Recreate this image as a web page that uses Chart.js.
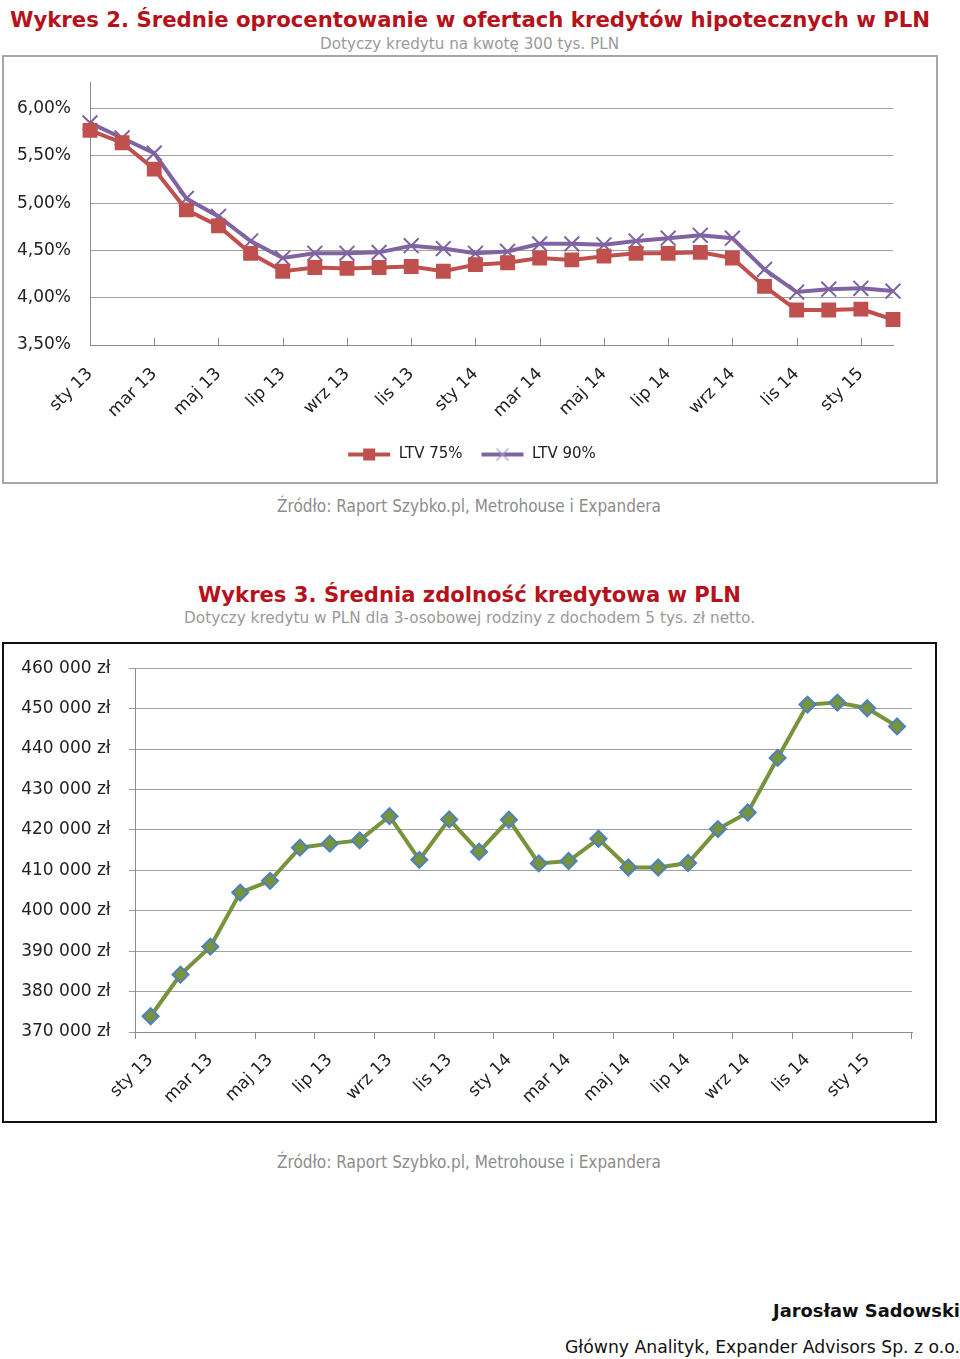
<!DOCTYPE html>
<html lang="pl">
<head>
<meta charset="utf-8">
<script src="https://cdn.jsdelivr.net/npm/chart.js@4.4.1/dist/chart.umd.min.js"></script>
<style>
  body { margin: 0; width: 960px; height: 1359px; background: #fff; position: relative; overflow: hidden;
         font-family: "DejaVu Sans", sans-serif; }
  .t { position: absolute; white-space: nowrap; line-height: 1; transform-origin: 0 50%; }
  .title { color: #b5121b; font-weight: bold; font-size: 22px; }
  .sub { color: #9a9a9a; font-size: 16px; }
  .src { color: #8c8c8c; font-size: 17px; }
  .box { position: absolute; box-sizing: border-box; }
  canvas { position: absolute; }
</style>
</head>
<body>

<div class="t title" style="left:10px; top:9px;" data-w="920">Wykres 2. Średnie oprocentowanie w ofertach kredytów hipotecznych w PLN</div>
<div class="t sub" style="left:320px; top:36px;" data-w="299">Dotyczy kredytu na kwotę 300 tys. PLN</div>
<div class="box" style="left:2px; top:55px; width:936px; height:429px; border:2px solid #a6a6a6;"></div>
<canvas id="c1" width="932" height="433" style="left:4px; top:53px;"></canvas>
<div class="t src" style="left:277px; top:498px;" data-w="384">Źródło: Raport Szybko.pl, Metrohouse i Expandera</div>

<div class="t title" style="left:198px; top:584px;" data-w="543">Wykres 3. Średnia zdolność kredytowa w PLN</div>
<div class="t sub" style="left:184px; top:610px;" data-w="571">Dotyczy kredytu w PLN dla 3-osobowej rodziny z dochodem 5 tys. zł netto.</div>
<div class="box" style="left:2px; top:642px; width:935px; height:481px; border:2px solid #111;"></div>
<canvas id="c2" width="931" height="481" style="left:4px; top:640px;"></canvas>
<div class="t src" style="left:277px; top:1154px;" data-w="384">Źródło: Raport Szybko.pl, Metrohouse i Expandera</div>

<div class="t" style="left:773px; top:1302px; font-weight:bold; font-size:18px; color:#111;" data-w="187">Jarosław Sadowski</div>
<div class="t" style="left:565px; top:1338px; font-size:18px; color:#111;" data-w="395">Główny Analityk, Expander Advisors Sp. z o.o.</div>

<script>
// dane
const months = ['sty 13','lut 13','mar 13','kwi 13','maj 13','cze 13','lip 13','sie 13','wrz 13','paź 13','lis 13','gru 13',
                'sty 14','lut 14','mar 14','kwi 14','maj 14','cze 14','lip 14','sie 14','wrz 14','paź 14','lis 14','gru 14',
                'sty 15','lut 15'];
const ltv75 = [5.77, 5.64, 5.36, 4.93, 4.76, 4.47, 4.28, 4.32, 4.31, 4.32, 4.33, 4.28, 4.35,
               4.37, 4.42, 4.40, 4.44, 4.47, 4.47, 4.48, 4.42, 4.12, 3.87, 3.87, 3.88, 3.77];
const ltv90 = [5.85, 5.69, 5.53, 5.05, 4.86, 4.60, 4.42, 4.47, 4.47, 4.48, 4.55, 4.52, 4.47,
               4.49, 4.57, 4.57, 4.56, 4.60, 4.63, 4.66, 4.63, 4.30, 4.06, 4.09, 4.10, 4.07];
const rateTicks = [3.5, 4.0, 4.5, 5.0, 5.5, 6.0];

const capacity = [373900, 384200, 391100, 404500, 407400, 415600, 416600, 417400, 423400, 412600, 422600, 414600, 422500,
                  411700, 412300, 417800, 410700, 410700, 411800, 420200, 424300, 437800, 451000, 451500, 450100, 445600];
const capacityTicks = [370000, 380000, 390000, 400000, 410000, 420000, 430000, 440000, 450000, 460000];

// dopasowanie szerokości napisów
document.querySelectorAll('.t').forEach(el => {
  const w = +el.dataset.w;
  const real = el.getBoundingClientRect().width;
  el.style.transform = 'scaleX(' + (w / real) + ')';
});

const FONT = '"DejaVu Sans", sans-serif';
const tickFont = { family: FONT, size: 17 };
const axisGray = '#8c8c8c';
const gridGray = '#a0a0a0';

// ikonki legendy: linia + znacznik
function legendIcon(color, style) {
  const c = document.createElement('canvas');
  c.width = 44; c.height = 16;
  const g = c.getContext('2d');
  g.strokeStyle = color;
  g.lineWidth = 4;
  g.beginPath(); g.moveTo(1, 8); g.lineTo(43, 8); g.stroke();
  if (style === 'rect') {
    g.fillStyle = color;
    g.fillRect(16, 2, 12, 12);
  } else {
    g.strokeStyle = '#a99cc0';
    g.lineWidth = 1.2;
    g.beginPath(); g.moveTo(16, 2); g.lineTo(28, 14); g.moveTo(28, 2); g.lineTo(16, 14); g.stroke();
  }
  return c;
}
const icons = [legendIcon('#C0504D', 'rect'), legendIcon('#8064A2', 'cross')];

// krótkie kreski osi X skierowane do wnętrza wykresu
const innerTicks = {
  id: 'innerTicks',
  beforeDatasetsDraw(chart) {
    const x = chart.scales.x;
    const ctx = chart.ctx;
    ctx.save();
    ctx.strokeStyle = axisGray;
    ctx.lineWidth = 1;
    ctx.beginPath();
    for (let i = 0; i < months.length; i += 2) {
      const px = Math.round(x.getPixelForTick(i)) + 0.5;
      ctx.moveTo(px, x.top);
      ctx.lineTo(px, x.top - 7);
    }
    ctx.stroke();
    ctx.restore();
  }
};

// legenda wyśrodkowana jak w Excelu (trochę w prawo)
const legendShift = {
  id: 'legendShift',
  afterLayout(chart) {
    chart.legend.left += 23;
    chart.legend.right += 23;
  }
};

new Chart(document.getElementById('c1'), {
  type: 'line',
  data: {
    labels: months,
    datasets: [{
      label: 'LTV 75%',
      data: ltv75,
      borderColor: '#C0504D',
      backgroundColor: '#C0504D',
      borderWidth: 4,
      pointStyle: 'rect',
      pointRadius: 10.5,
      pointBorderWidth: 0,
      pointBackgroundColor: '#C0504D',
      tension: 0
    }, {
      label: 'LTV 90%',
      data: ltv90,
      borderColor: '#8064A2',
      backgroundColor: '#8064A2',
      borderWidth: 4,
      pointStyle: 'crossRot',
      pointRadius: 10.5,
      pointBorderWidth: 2,
      pointBorderColor: '#8064A2',
      tension: 0
    }]
  },
  options: {
    responsive: false,
    animation: false,
    events: [],
    layout: { padding: { top: 0, right: 43, bottom: 14, left: 0 } },
    plugins: {
      tooltip: { enabled: false },
      legend: {
        position: 'bottom',
        labels: {
          usePointStyle: true,
          pointStyleWidth: 44,
          padding: 18,
          color: '#222',
          font: { family: FONT, size: 15 },
          generateLabels: chart => Chart.defaults.plugins.legend.labels.generateLabels(chart)
            .map((item, i) => Object.assign(item, { pointStyle: icons[i] }))
        }
      }
    },
    scales: {
      x: {
        offset: false,
        grid: { display: false, drawTicks: false },
        border: { color: axisGray, width: 1 },
        ticks: {
          autoSkip: false, maxRotation: 45, minRotation: 45, padding: 19,
          color: '#222', font: tickFont,
          callback: (v, i) => i % 2 === 0 ? months[i] : ''
        },
        afterFit: s => { s.height = 84; }
      },
      y: {
        min: 3.5,
        max: 6.28,
        afterBuildTicks: s => { s.ticks = rateTicks.map(v => ({ value: v })); },
        grid: { color: gridGray, drawTicks: false },
        border: { color: axisGray, width: 1 },
        ticks: {
          padding: 19, color: '#222', font: tickFont,
          callback: v => v.toFixed(2).replace('.', ',') + '%'
        },
        afterFit: s => { s.width = 86; }
      }
    }
  },
  plugins: [innerTicks, legendShift]
});

new Chart(document.getElementById('c2'), {
  type: 'line',
  data: {
    labels: months,
    datasets: [{
      label: 'Zdolność kredytowa',
      data: capacity,
      borderColor: '#77933C',
      borderWidth: 4,
      pointStyle: 'rectRot',
      pointRadius: 8,
      pointBackgroundColor: '#77933C',
      pointBorderColor: '#4F81BD',
      pointBorderWidth: 2,
      tension: 0
    }]
  },
  options: {
    responsive: false,
    animation: false,
    events: [],
    layout: { padding: { top: 0, right: 23, bottom: 0, left: 0 } },
    plugins: { legend: { display: false }, tooltip: { enabled: false } },
    scales: {
      x: {
        offset: true,
        grid: {
          offset: true, drawOnChartArea: false, tickLength: 7,
          color: c => (c.index === undefined || c.index % 2 === 0) ? axisGray : 'rgba(0,0,0,0)'
        },
        border: { color: axisGray, width: 1 },
        ticks: {
          autoSkip: false, maxRotation: 45, minRotation: 45, padding: 11,
          color: '#222', font: tickFont,
          callback: (v, i) => i % 2 === 0 ? months[i] : ''
        },
        afterFit: s => { s.height = 89; }
      },
      y: {
        min: 370000,
        max: 460000,
        afterBuildTicks: s => { s.ticks = capacityTicks.map(v => ({ value: v })); },
        grid: { color: gridGray, tickLength: 7 },
        border: { color: axisGray, width: 1 },
        ticks: {
          padding: 18, color: '#222', font: tickFont,
          callback: v => String(v).replace(/\B(?=(\d{3})+(?!\d))/g, ' ') + ' zł'
        },
        afterFit: s => { s.width = 131.7; }
      }
    }
  }
});
</script>
</body>
</html>
